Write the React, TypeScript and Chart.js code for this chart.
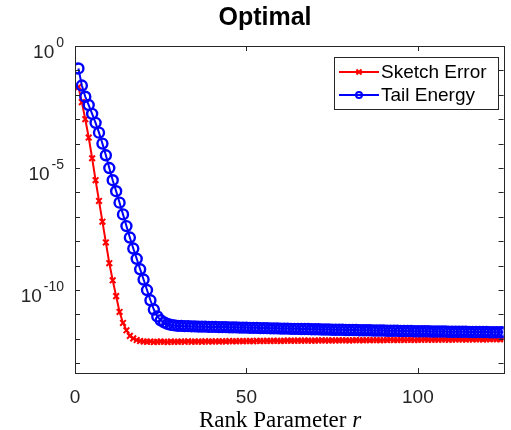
import React, { useEffect, useRef } from "react";
import { Chart, registerables } from "chart.js";

Chart.register(...registerables);

const TITLE = "Optimal";
const X_LABEL = "Rank Parameter ";
const X_LABEL_VAR = "r";
const SERIES_NAMES = ["Sketch Error", "Tail Energy"];
const X_TICKS = [0, 50, 100];
const Y_LABEL_EXPONENTS = [0, -5, -10];
const Y_MINOR_EXPONENTS = [0, -1, -2, -3, -4, -5, -6, -7, -8, -9, -10, -11, -12, -13];
const X_MIN = 0;
const X_MAX = 125;
const Y_MIN = 3.98e-14;
const Y_MAX = 1;

// log10 of values, rank r = 1..125
const sketchErrorLog10 = [
  -1.68, -2.3, -3.0, -3.75, -4.6, -5.5, -6.35, -7.2, -8.05, -8.9,
  -9.6, -10.25, -10.9, -11.35, -11.65, -11.88, -11.98, -12.05, -12.09, -12.11,
  -12.12, -12.11, -12.13, -12.12, -12.11, -12.12, -12.13, -12.11, -12.12, -12.12,
  -12.11, -12.12, -12.1, -12.12, -12.11, -12.11, -12.12, -12.1, -12.11, -12.11,
  -12.1, -12.11, -12.1, -12.11, -12.09, -12.1, -12.1, -12.09, -12.1, -12.09,
  -12.09, -12.1, -12.08, -12.09, -12.09, -12.08, -12.09, -12.08, -12.08, -12.09,
  -12.08, -12.07, -12.08, -12.08, -12.07, -12.08, -12.07, -12.07, -12.08, -12.07,
  -12.07, -12.06, -12.07, -12.07, -12.06, -12.07, -12.06, -12.06, -12.06, -12.07,
  -12.06, -12.05, -12.06, -12.06, -12.05, -12.06, -12.05, -12.05, -12.06, -12.05,
  -12.05, -12.04, -12.05, -12.05, -12.04, -12.05, -12.04, -12.04, -12.05, -12.04,
  -12.04, -12.03, -12.04, -12.04, -12.03, -12.04, -12.03, -12.03, -12.04, -12.03,
  -12.03, -12.02, -12.03, -12.03, -12.02, -12.03, -12.02, -12.02, -12.03, -12.02,
  -12.02, -12.01, -12.02, -12.02, -12.01,
];

const tailEnergyLog10 = [
  -0.92, -1.62, -2.08, -2.42, -2.78, -3.15, -3.55, -4.0, -4.48, -5.0,
  -5.5, -5.95, -6.42, -6.9, -7.38, -7.85, -8.3, -8.72, -9.15, -9.57,
  -10.0, -10.42, -10.8, -11.08, -11.24, -11.33, -11.39, -11.43, -11.45, -11.47,
  -11.47, -11.48, -11.48, -11.49, -11.49, -11.5, -11.5, -11.5, -11.51, -11.51,
  -11.51, -11.52, -11.52, -11.52, -11.53, -11.53, -11.53, -11.54, -11.54, -11.54,
  -11.55, -11.55, -11.55, -11.56, -11.56, -11.56, -11.57, -11.57, -11.57, -11.58,
  -11.58, -11.58, -11.59, -11.59, -11.59, -11.6, -11.6, -11.6, -11.61, -11.61,
  -11.61, -11.62, -11.62, -11.62, -11.63, -11.63, -11.63, -11.63, -11.64, -11.64,
  -11.64, -11.64, -11.65, -11.65, -11.65, -11.65, -11.66, -11.66, -11.66, -11.66,
  -11.67, -11.67, -11.67, -11.67, -11.68, -11.68, -11.68, -11.68, -11.69, -11.69,
  -11.69, -11.69, -11.69, -11.7, -11.7, -11.7, -11.7, -11.7, -11.71, -11.71,
  -11.71, -11.71, -11.71, -11.71, -11.72, -11.72, -11.72, -11.72, -11.72, -11.72,
  -11.73, -11.73, -11.73, -11.73, -11.73,
];

const rankValues = sketchErrorLog10.map((_, i) => i + 1);

const AXIS_COLOR = "#262626";
const SANS = '"Liberation Sans", Arial, Helvetica, sans-serif';
const SERIF = '"Liberation Serif", "Times New Roman", serif';

const matlabAxesPlugin = {
  id: "matlabAxes",
  afterDatasetsDraw(chart: any) {
    const ctx = chart.ctx as CanvasRenderingContext2D;
    const { left, right, top, bottom } = chart.chartArea;
    const xs = chart.scales.x;
    const ys = chart.scales.y;
    const tl = 5;
    ctx.save();
    ctx.strokeStyle = AXIS_COLOR;
    ctx.lineWidth = 1;
    // box
    ctx.strokeRect(Math.round(left) + 0.5, Math.round(top) + 0.5, Math.round(right - left), Math.round(bottom - top));
    ctx.beginPath();
    for (const t of X_TICKS) {
      const px = Math.round(xs.getPixelForValue(t)) + 0.5;
      ctx.moveTo(px, bottom);
      ctx.lineTo(px, bottom - tl);
      ctx.moveTo(px, top);
      ctx.lineTo(px, top + tl);
    }
    for (const e of Y_MINOR_EXPONENTS) {
      const py = Math.round(ys.getPixelForValue(Math.pow(10, e))) + 0.5;
      ctx.moveTo(left, py);
      ctx.lineTo(left + tl, py);
      ctx.moveTo(right, py);
      ctx.lineTo(right - tl, py);
    }
    ctx.stroke();

    // x tick labels
    ctx.fillStyle = AXIS_COLOR;
    ctx.font = `19px ${SANS}`;
    ctx.textAlign = "center";
    ctx.textBaseline = "alphabetic";
    for (const t of X_TICKS) {
      ctx.fillText(String(t), xs.getPixelForValue(t), bottom + 30);
    }

    // y tick labels with superscripts
    for (const e of Y_LABEL_EXPONENTS) {
      const py = ys.getPixelForValue(Math.pow(10, e));
      const sup = e < 0 ? "-" + Math.abs(e) : String(e);
      ctx.font = `14px ${SANS}`;
      ctx.textAlign = "right";
      const supRight = 64;
      const supW = ctx.measureText(sup).width;
      ctx.fillText(sup, supRight, py + 1);
      ctx.font = `19px ${SANS}`;
      ctx.fillText("10", supRight - supW - 2, py + 12);
    }

    // title
    ctx.fillStyle = "#000";
    ctx.font = `bold 25px ${SANS}`;
    ctx.textAlign = "center";
    ctx.fillText(TITLE, 265, 25);

    // x-axis label
    ctx.font = `23px ${SERIF}`;
    const w1 = ctx.measureText(X_LABEL).width;
    ctx.font = `italic 23px ${SERIF}`;
    const w2 = ctx.measureText(X_LABEL_VAR).width;
    const startX = 280 - (w1 + w2) / 2;
    ctx.textAlign = "left";
    ctx.font = `23px ${SERIF}`;
    ctx.fillText(X_LABEL, startX, 427);
    ctx.font = `italic 23px ${SERIF}`;
    ctx.fillText(X_LABEL_VAR, startX + w1, 427);

    // legend
    const lx = 334.5, ly = 57.5, lw = 164, lh = 52;
    ctx.fillStyle = "#fff";
    ctx.fillRect(lx, ly, lw, lh);
    ctx.strokeStyle = AXIS_COLOR;
    ctx.lineWidth = 1;
    ctx.strokeRect(lx, ly, lw, lh);
    const rows = [72, 95];
    chart.data.datasets.forEach((ds: any, i: number) => {
      const ry = rows[i];
      ctx.strokeStyle = ds.borderColor;
      ctx.lineWidth = 2;
      ctx.beginPath();
      ctx.moveTo(339, ry);
      ctx.lineTo(379, ry);
      ctx.stroke();
      ctx.lineWidth = 2;
      ctx.beginPath();
      if (ds.pointStyle === "circle") {
        ctx.arc(359, ry, 3, 0, Math.PI * 2);
      } else {
        const r = 2.5;
        ctx.moveTo(359 - r, ry - r);
        ctx.lineTo(359 + r, ry + r);
        ctx.moveTo(359 + r, ry - r);
        ctx.lineTo(359 - r, ry + r);
      }
      ctx.stroke();
      ctx.fillStyle = "#000";
      ctx.font = `19px ${SANS}`;
      ctx.textAlign = "left";
      ctx.textBaseline = "middle";
      ctx.fillText(ds.label, 381, ry + 1);
      ctx.textBaseline = "alphabetic";
    });
    ctx.restore();
  },
};

export default function App() {
  const canvasRef = useRef<HTMLCanvasElement | null>(null);

  useEffect(() => {
    document.body.style.margin = "0";
    const canvas = canvasRef.current;
    if (!canvas) return;
    const chart = new Chart(canvas, {
      type: "line",
      data: {
        datasets: [
          {
            label: SERIES_NAMES[0],
            data: rankValues.map((r, i) => ({ x: r, y: Math.pow(10, sketchErrorLog10[i]) })),
            borderColor: "#ff0000",
            backgroundColor: "#ff0000",
            borderWidth: 2,
            pointStyle: "crossRot",
            pointRadius: 4,
            pointBorderWidth: 2,
            pointBorderColor: "#ff0000",
            pointBackgroundColor: "#ff0000",
            order: 1,
          },
          {
            label: SERIES_NAMES[1],
            data: rankValues.map((r, i) => ({ x: r, y: Math.pow(10, tailEnergyLog10[i]) })),
            borderColor: "#0000ff",
            backgroundColor: "rgba(0,0,0,0)",
            borderWidth: 2,
            pointStyle: "circle",
            pointRadius: 5,
            pointBorderWidth: 2.4,
            pointBorderColor: "#0000ff",
            pointBackgroundColor: "rgba(0,0,0,0)",
            order: 0,
          },
        ],
      },
      options: {
        responsive: false,
        animation: false,
        layout: { padding: { left: 75, right: 3, top: 46, bottom: 57 } },
        plugins: {
          legend: { display: false },
          title: { display: false },
          tooltip: { enabled: false },
        },
        scales: {
          x: { type: "linear", min: X_MIN, max: X_MAX, display: false },
          y: { type: "logarithmic", min: Y_MIN, max: Y_MAX, display: false },
        },
      },
      plugins: [matlabAxesPlugin],
    });
    return () => chart.destroy();
  }, []);

  return <canvas ref={canvasRef} width={511} height={430} style={{ display: "block" }} />;
}
